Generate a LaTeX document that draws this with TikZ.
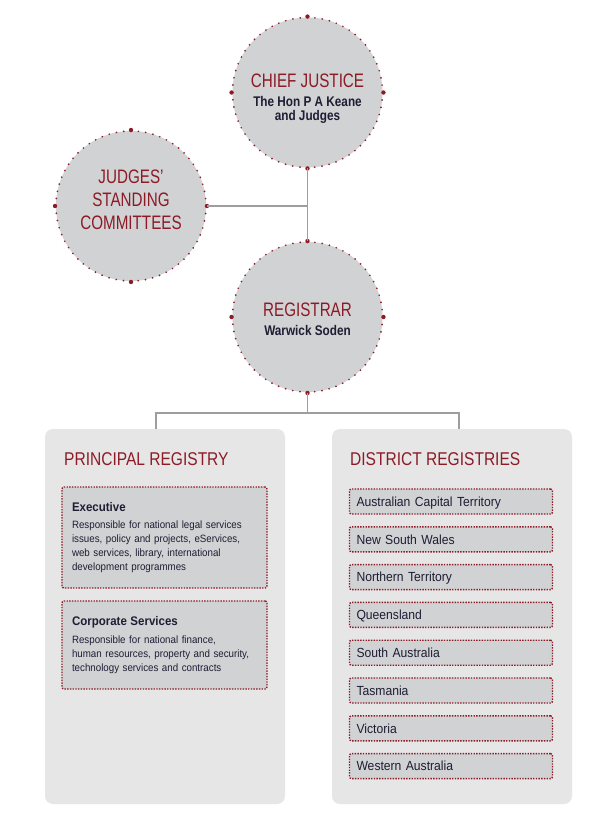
\documentclass[tikz,border=0pt]{standalone}
\usepackage{fontspec}
\setmainfont{Liberation Sans}[FakeStretch=0.92]
\newfontfamily\titlefont{Liberation Sans}[FakeStretch=0.78]
\newfontfamily\namefont{Liberation Sans}[FakeStretch=0.84]
\usetikzlibrary{positioning}

\definecolor{courtred}{RGB}{140,27,38}
\definecolor{inkblue}{RGB}{30,29,52}
\definecolor{discgray}{RGB}{209,210,212}
\definecolor{panelgray}{RGB}{230,230,231}
\definecolor{linkgray}{RGB}{158,158,160}

\newcommand\ctitle{\titlefont\fontsize{19.5}{22}\selectfont}
\newcommand\cname{\namefont\bfseries\fontsize{14}{14}\selectfont\color{inkblue}}
\newcommand\ptitle{\namefont\fontsize{18.5}{20}\selectfont}
\newcommand\unithead{\bfseries\fontsize{12.5}{14}\selectfont}
\newcommand\unitbody{\fontsize{10.6}{14}\selectfont}

\begin{document}
\begin{tikzpicture}[x=1pt,y=-1pt,
  judgedisc/.style={circle,minimum size=150pt,inner sep=0pt,fill=discgray,
    draw=courtred,line width=1.9pt,dash pattern=on 0pt off 7.36pt,line cap=round},
  disctext/.style={align=center,inner sep=0pt,text=courtred,font=\ctitle},
  panel/.style={rectangle,fill=panelgray,rounded corners=8pt,
    minimum width=240pt,minimum height=375pt,inner sep=0pt},
  unitbox/.style={rectangle,fill=discgray,draw=courtred,line width=1.4pt,
    dash pattern=on 1.4pt off 1.3pt,rounded corners=2pt,minimum width=205pt,
    text width=185pt,inner xsep=10pt,align=left,text=inkblue,font=\unitbody},
  statebox/.style={unitbox,minimum width=203pt,minimum height=25pt,inner ysep=0pt,
    text width=189pt,inner xsep=7pt,text height=11.5pt,text depth=2pt,
    font=\fontsize{13.2}{14}\selectfont},
  link/.style={draw=linkgray,line width=1.4pt}]
  \useasboundingbox[fill=white] (0,0) rectangle (600,830);

  % the court
  \node(chief) [judgedisc] at (307.5,92.5) {};
  \node(jsc) [judgedisc] at (131,206) {};
  \node(registrar) [judgedisc] at (307.5,317) {};

  \node(chieftext) [disctext] at ([yshift=-6pt]chief.center)
    {\ctitle CHIEF JUSTICE\\[-2.3pt]\cname The Hon P A Keane\\[-8.5pt]\cname and Judges};
  \node(jsctext) [disctext] at ([yshift=6pt]jsc.center)
    {\ctitle JUDGES’\\[1pt]\ctitle STANDING\\[1pt]\ctitle COMMITTEES};
  \node(registrartext) [disctext] at ([yshift=-2.5pt]registrar.center)
    {\ctitle REGISTRAR\\[-3pt]\cname Warwick Soden};

  \foreach \disc in {chief,jsc,registrar}
    \foreach \side in {north,south,east,west}
      \fill[courtred] (\disc.\side) circle (2.2pt);

  % registries
  \node(principalbox) [panel] at (165,616.5) {};
  \node(districtbox) [panel] at (452,616.5) {};
  \node(principal) [anchor=base west,inner sep=0pt,font=\ptitle,text=courtred]
    at (64,465) {PRINCIPAL REGISTRY};
  \node(district) [anchor=base west,inner sep=0pt,font=\ptitle,text=courtred]
    at (350,465) {DISTRICT REGISTRIES};

  \node(exec) [unitbox,minimum height=101pt] at (164.5,537.5)
    {{\unithead Executive}\\[3.6pt]
     Responsible for national legal services\\
     issues, policy and projects, eServices,\\
     web services, library, international\\
     development programmes};
  \node(corporate) [unitbox,minimum height=88pt] at (164.5,645)
    {{\unithead Corporate Services}\\[3.6pt]
     Responsible for national finance,\\
     human resources, property and security,\\
     technology services and contracts};

  \foreach \state [count=\i from 0] in {Australian Capital Territory,New South Wales,
      Northern Territory,Queensland,South Australia,Tasmania,Victoria,Western Australia}
    \node(state\i) [statebox] at (451,501.5+37.8*\i) {\state};

  % links
  \coordinate(fork) at (307.5,413);
  \coordinate(pin) at (156,429);
  \coordinate(din) at (459,429);

  \draw[link] (chief) -- (registrar);
  \draw[link] (jsc.east) -- (jsc.east -| chief.south);
  \draw[link] (registrar.south) -- (fork);
  \draw[link] (pin) -- (pin |- fork) -- (din |- fork) -- (din);
\end{tikzpicture}
\end{document}
